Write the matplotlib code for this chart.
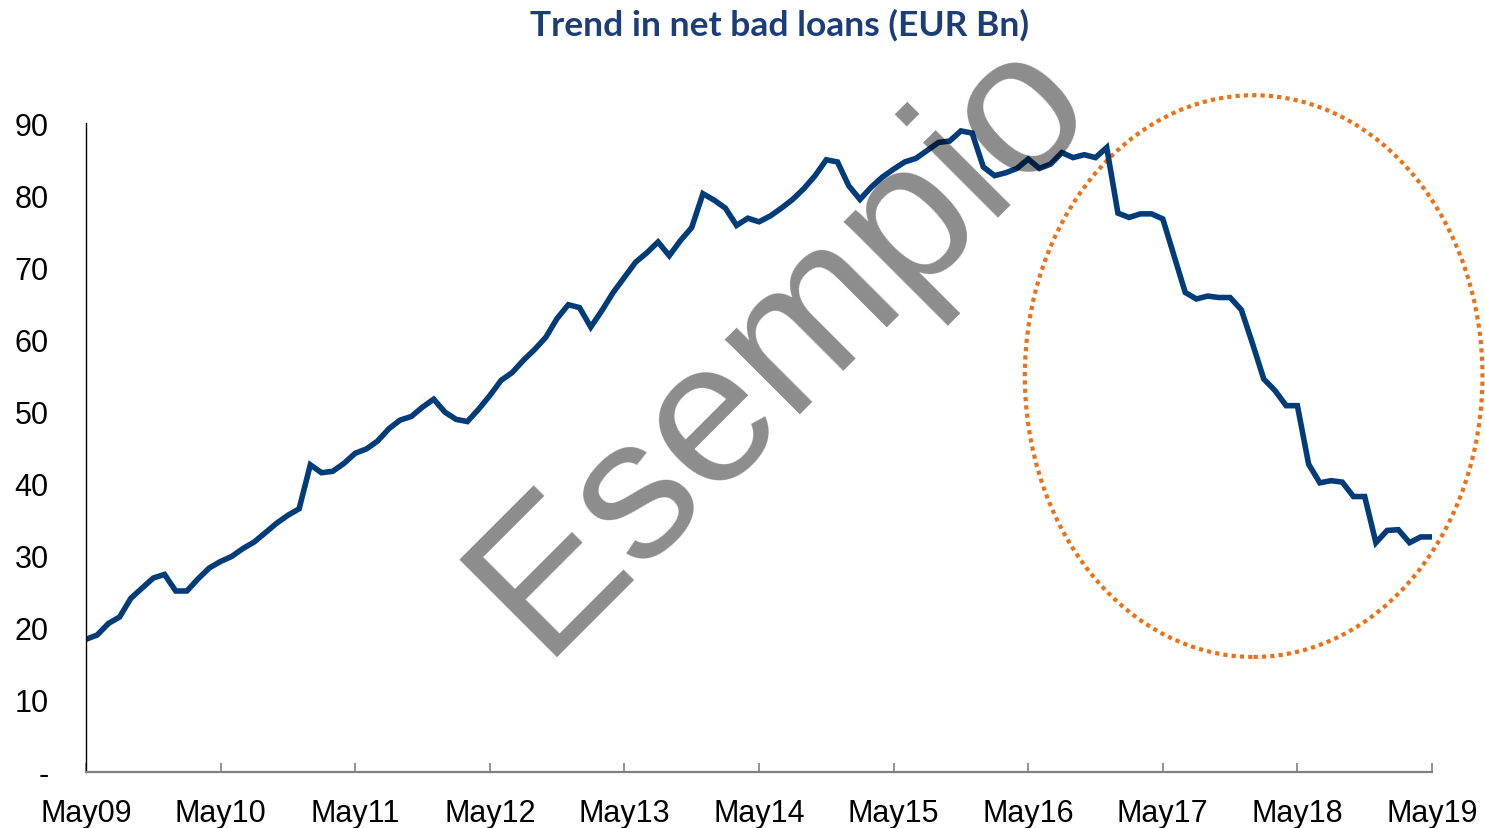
import matplotlib.pyplot as plt
from matplotlib.patches import Ellipse


# monthly net bad loans, May 2009 .. May 2019 (EUR Bn)
loans = [
    18.4, 19.0, 20.6, 21.5, 24.1, 25.5, 26.9, 27.4, 25.1, 25.1, 26.8, 28.3,
    29.2, 29.9, 31.0, 31.9, 33.2, 34.5, 35.6, 36.5, 42.6, 41.5, 41.7, 42.8,
    44.2, 44.8, 45.9, 47.6, 48.8, 49.3, 50.6, 51.7, 49.9, 48.9, 48.6, 50.3,
    52.2, 54.3, 55.4, 57.1, 58.6, 60.3, 62.9, 64.8, 64.4, 61.7, 64.0, 66.5,
    68.6, 70.7, 72.0, 73.5, 71.6, 73.7, 75.5, 80.2, 79.3, 78.2, 75.8, 76.8,
    76.3, 77.1, 78.2, 79.4, 80.9, 82.7, 84.9, 84.6, 81.3, 79.4, 81.1, 82.5,
    83.6, 84.6, 85.1, 86.2, 87.3, 87.5, 88.9, 88.6, 83.9, 82.7, 83.1, 83.7,
    85.0, 83.7, 84.3, 85.9, 85.2, 85.6, 85.2, 86.6, 77.5, 76.9, 77.4, 77.4,
    76.7, 71.6, 66.5, 65.6, 66.0, 65.8, 65.8, 64.1, 59.4, 54.5, 52.9, 50.8,
    50.8, 42.7, 40.1, 40.4, 40.2, 38.2, 38.2, 31.8, 33.5, 33.6, 31.8, 32.6,
    32.6,
]
months = list(range(len(loans)))
year_labels = ['May09', 'May10', 'May11', 'May12', 'May13', 'May14',
               'May15', 'May16', 'May17', 'May18', 'May19']
y_ticks = [0, 10, 20, 30, 40, 50, 60, 70, 80, 90]
y_labels = ['-'] + [str(v) for v in y_ticks[1:]]

plt.rcParams['font.family'] = ['Liberation Sans', 'DejaVu Sans']

fig = plt.figure(figsize=(14.85, 8.29), dpi=100)
ax = fig.add_axes([86 / 1485, 1 - 773 / 829, 1346 / 1485, 649 / 829])

ax.plot(months, loans, color='#003B7A', lw=4.0, solid_joinstyle='miter')

ax.set_xlim(0, 120)
ax.set_ylim(0, 90)
ax.set_xticks([12 * i for i in range(len(year_labels))])
ax.set_xticklabels(year_labels)
ax.set_yticks(y_ticks)
ax.set_yticklabels(y_labels)

ax.spines['top'].set_visible(False)
ax.spines['right'].set_visible(False)
ax.spines['left'].set_color('black')
ax.spines['left'].set_linewidth(1.0)
ax.spines['bottom'].set_color('#808080')
ax.spines['bottom'].set_linewidth(1.6)

ax.tick_params(axis='x', direction='in', length=6.5, width=1.2, color='#808080',
               labelsize=22, pad=19)
ax.tick_params(axis='y', length=0, labelsize=22, pad=27)

# dotted highlight around the recent decline
ell = Ellipse((104.1, 54.9), 40.8, 77.9, fill=False, edgecolor='#ED7014',
              lw=3.0, linestyle=(0, (1, 1)), clip_on=False)
ax.add_patch(ell)

fig.text(779 / 1485, 1 - 25 / 829, 'Trend in net bad loans (EUR Bn)',
         ha='center', va='center', fontsize=25.5, fontweight='bold',
         color='#1B3D7A', family=['Lato', 'DejaVu Sans'])

# watermark
fig.text(541 / 1485, 1 - 657 / 829, 'Esempio', rotation=45,
         rotation_mode='anchor', ha='left', va='baseline', fontsize=145,
         color='black', alpha=0.45)

fig.savefig('out.png', dpi=100)
